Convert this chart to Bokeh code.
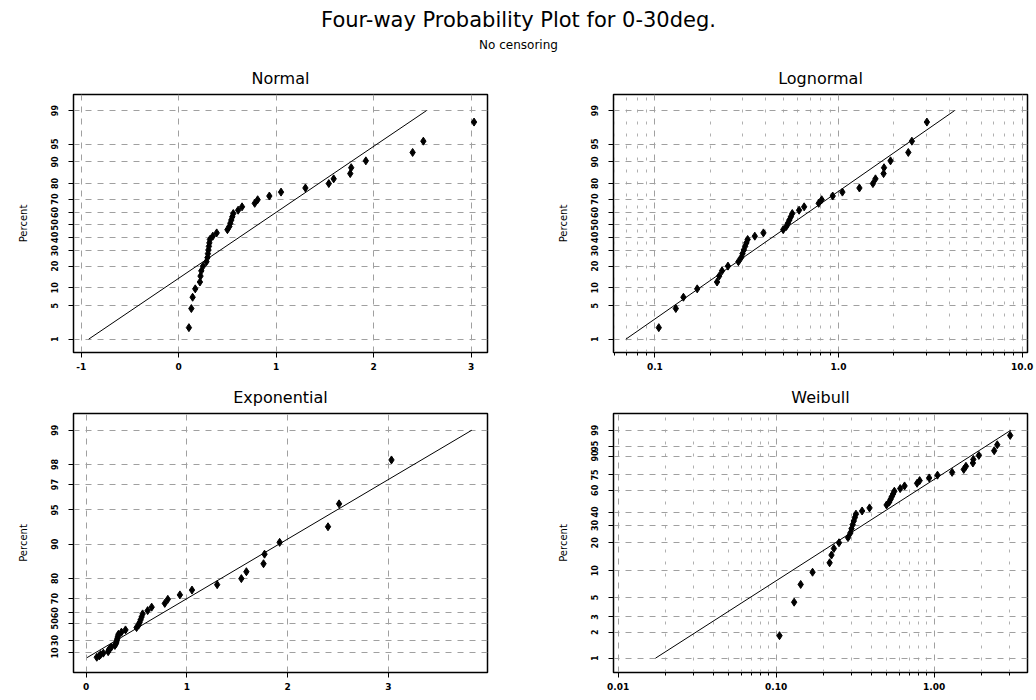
import math
from statistics import NormalDist
import numpy as np
from bokeh.plotting import figure
from bokeh.layouts import column, row
from bokeh.models import FixedTicker, Range1d, Label
from bokeh.embed import file_html
from bokeh.resources import INLINE

# ---- data (sorted observations, 0-30deg, n = 38, no censoring) ----
values = [0.105, 0.130, 0.143, 0.170, 0.218, 0.224, 0.232, 0.250, 0.285, 0.295,
          0.300, 0.305, 0.310, 0.315, 0.320, 0.350, 0.390, 0.500, 0.520, 0.530,
          0.540, 0.550, 0.560, 0.610, 0.650, 0.780, 0.810, 0.930, 1.050, 1.300,
          1.540, 1.590, 1.760, 1.770, 1.920, 2.400, 2.510, 3.030]

# fitted distribution parameters
normal_mu, normal_sigma = 0.81, 0.745
lognorm_mu, lognorm_sigma = -0.605, 0.886
exp_theta = 0.831
weib_shape, weib_scale = 1.183, 0.841

# tick labels
pct_normal = [1, 5, 10, 20, 30, 40, 50, 60, 70, 80, 90, 95, 99]
pct_exp = [10, 30, 50, 60, 70, 80, 90, 95, 97, 98, 99]
pct_weib = [1, 2, 3, 5, 10, 20, 30, 40, 60, 75, 90, 95, 99]
xt_normal = [-1, 0, 1, 2, 3]
xl_normal = ["-1", "0", "1", "2", "3"]
xt_lognorm = [0.1, 1.0, 10.0]
xl_lognorm = ["0.1", "1.0", "10.0"]
xt_exp = [0, 1, 2, 3]
xl_exp = ["0", "1", "2", "3"]
xt_weib = [0.01, 0.1, 1.0]
xl_weib = ["0.01", "0.10", "1.00"]

FONT = "DejaVu Sans"
nd = NormalDist()


def zq(p):
    return nd.inv_cdf(p)


def eq(p):
    return -math.log(1.0 - p)


def wq(p):
    return math.log(-math.log(1.0 - p))


x = np.array(values)
n = len(values)
probs = (np.arange(1, n + 1) - 0.3) / (n + 0.4)
p_line = [0.01, 0.99]


def log_minor(lo_exp, hi_exp):
    out = []
    for e in range(lo_exp, hi_exp + 1):
        for m in range(2, 10):
            out.append(m * 10.0 ** e)
    return out


def panel(title, xtype, xr, yr, pcts, qf, xticks, xlabels, xminor,
          bl, br, bt, bb, fh):
    p = figure(x_axis_type=xtype, x_range=Range1d(*xr), y_range=Range1d(*yr),
               frame_width=414, frame_height=fh,
               min_border_left=bl, min_border_right=br,
               min_border_top=bt, min_border_bottom=bb,
               toolbar_location=None, output_backend="svg", title=title)
    p.title.align = "center"
    p.title.text_font = FONT
    p.title.text_font_size = "16px"
    p.title.text_font_style = "normal"
    p.title.text_color = "black"
    p.title.standoff = 13
    p.outline_line_color = "black"
    p.outline_line_width = 1.5
    p.background_fill_color = "white"
    p.border_fill_color = "white"

    yt = [qf(pc / 100.0) for pc in pcts]
    p.yaxis.ticker = FixedTicker(ticks=yt)
    p.yaxis.major_label_overrides = {t: str(pc) for t, pc in zip(yt, pcts)}
    p.yaxis.major_label_orientation = "vertical"
    p.yaxis.axis_label = "Percent"
    p.yaxis.axis_label_text_font = FONT
    p.yaxis.axis_label_text_font_size = "10px"
    p.yaxis.axis_label_text_font_style = "normal"
    p.yaxis.axis_label_text_color = "black"
    p.yaxis.axis_label_standoff = 20
    p.yaxis.minor_tick_line_color = None

    p.xaxis.ticker = FixedTicker(ticks=xticks, minor_ticks=xminor)
    p.xaxis.major_label_overrides = {t: l for t, l in zip(xticks, xlabels)}
    if not xminor:
        p.xaxis.minor_tick_line_color = None
    else:
        p.xaxis.minor_tick_out = 3
        p.xaxis.minor_tick_in = 0
        p.xaxis.minor_tick_line_color = "black"

    for ax in (p.xaxis[0], p.yaxis[0]):
        ax.major_label_text_font = FONT
        ax.major_label_text_font_style = "bold"
        ax.major_label_text_color = "black"
        ax.major_tick_out = 5
        ax.major_tick_in = 0
        ax.major_tick_line_color = "black"
        ax.axis_line_color = "black"
    p.xaxis.major_label_text_font_size = "9px"
    p.yaxis.major_label_text_font_size = "8px"
    p.yaxis.major_label_standoff = 10
    p.xaxis.major_label_standoff = 5

    for g in (p.xgrid[0], p.ygrid[0]):
        g.grid_line_color = "#a0a0a0"
        g.grid_line_dash = "6 6"
        g.grid_line_width = 1
    if xminor:
        p.xgrid[0].minor_grid_line_color = "#b0b0b0"
        p.xgrid[0].minor_grid_line_dash = "3 9"
        p.xgrid[0].minor_grid_line_width = 1
    return p


# ---------- Normal ----------
p1 = panel("Normal", "linear", (-1.079, 3.168), (-2.598, 2.653), pct_normal, zq,
           xt_normal, xl_normal, [], 73, 31, 34, 23, 258)
y_norm = [zq(v) for v in probs]
zl = [zq(v) for v in p_line]
p1.line([normal_mu + normal_sigma * z for z in zl], zl, line_color="black", line_width=1)
p1.scatter(x, y_norm, marker="diamond", size=8, color="black")

# ---------- Lognormal ----------
p2 = panel("Lognormal", "log", (0.0595, 10.7), (-2.598, 2.653), pct_normal, zq,
           xt_lognorm, xl_lognorm, log_minor(-2, 1), 95, 9, 34, 23, 258)
p2.line([math.exp(lognorm_mu + lognorm_sigma * z) for z in zl], zl,
        line_color="black", line_width=1)
p2.scatter(x, y_norm, marker="diamond", size=8, color="black")

# ---------- Exponential ----------
p3 = panel("Exponential", "linear", (-0.126, 3.983), (-0.290, 4.943), pct_exp, eq,
           xt_exp, xl_exp, [], 73, 31, 38, 28, 259)
el = [eq(v) for v in p_line]
p3.line([exp_theta * q for q in el], el, line_color="black", line_width=1)
p3.scatter(x, [eq(v) for v in probs], marker="diamond", size=8, color="black")

# ---------- Weibull ----------
p4 = panel("Weibull", "log", (0.00934, 3.90), (-4.985, 1.977), pct_weib, wq,
           xt_weib, xl_weib, log_minor(-3, 0), 95, 9, 38, 28, 259)
wl = [wq(v) for v in p_line]
p4.line([weib_scale * math.exp(w / weib_shape) for w in wl], wl,
        line_color="black", line_width=1)
p4.scatter(x, [wq(v) for v in probs], marker="diamond", size=8, color="black")

# ---------- header ----------
hdr = figure(width=1036, height=60, x_range=Range1d(0, 1036), y_range=Range1d(60, 0),
             toolbar_location=None, output_backend="svg",
             x_axis_location=None, y_axis_location=None, min_border=0)
hdr.outline_line_color = None
hdr.xgrid.visible = False
hdr.ygrid.visible = False
hdr.add_layout(Label(x=518, y=19, text="Four-way Probability Plot for 0-30deg.",
                     text_align="center", text_baseline="middle", text_color="black",
                     text_font=FONT, text_font_size="21px"))
hdr.add_layout(Label(x=518, y=44, text="No censoring",
                     text_align="center", text_baseline="middle", text_color="black",
                     text_font=FONT, text_font_size="12px"))

layout = column(hdr, row(p1, p2), row(p3, p4))
open("out.html", "w").write(file_html(layout, INLINE))
